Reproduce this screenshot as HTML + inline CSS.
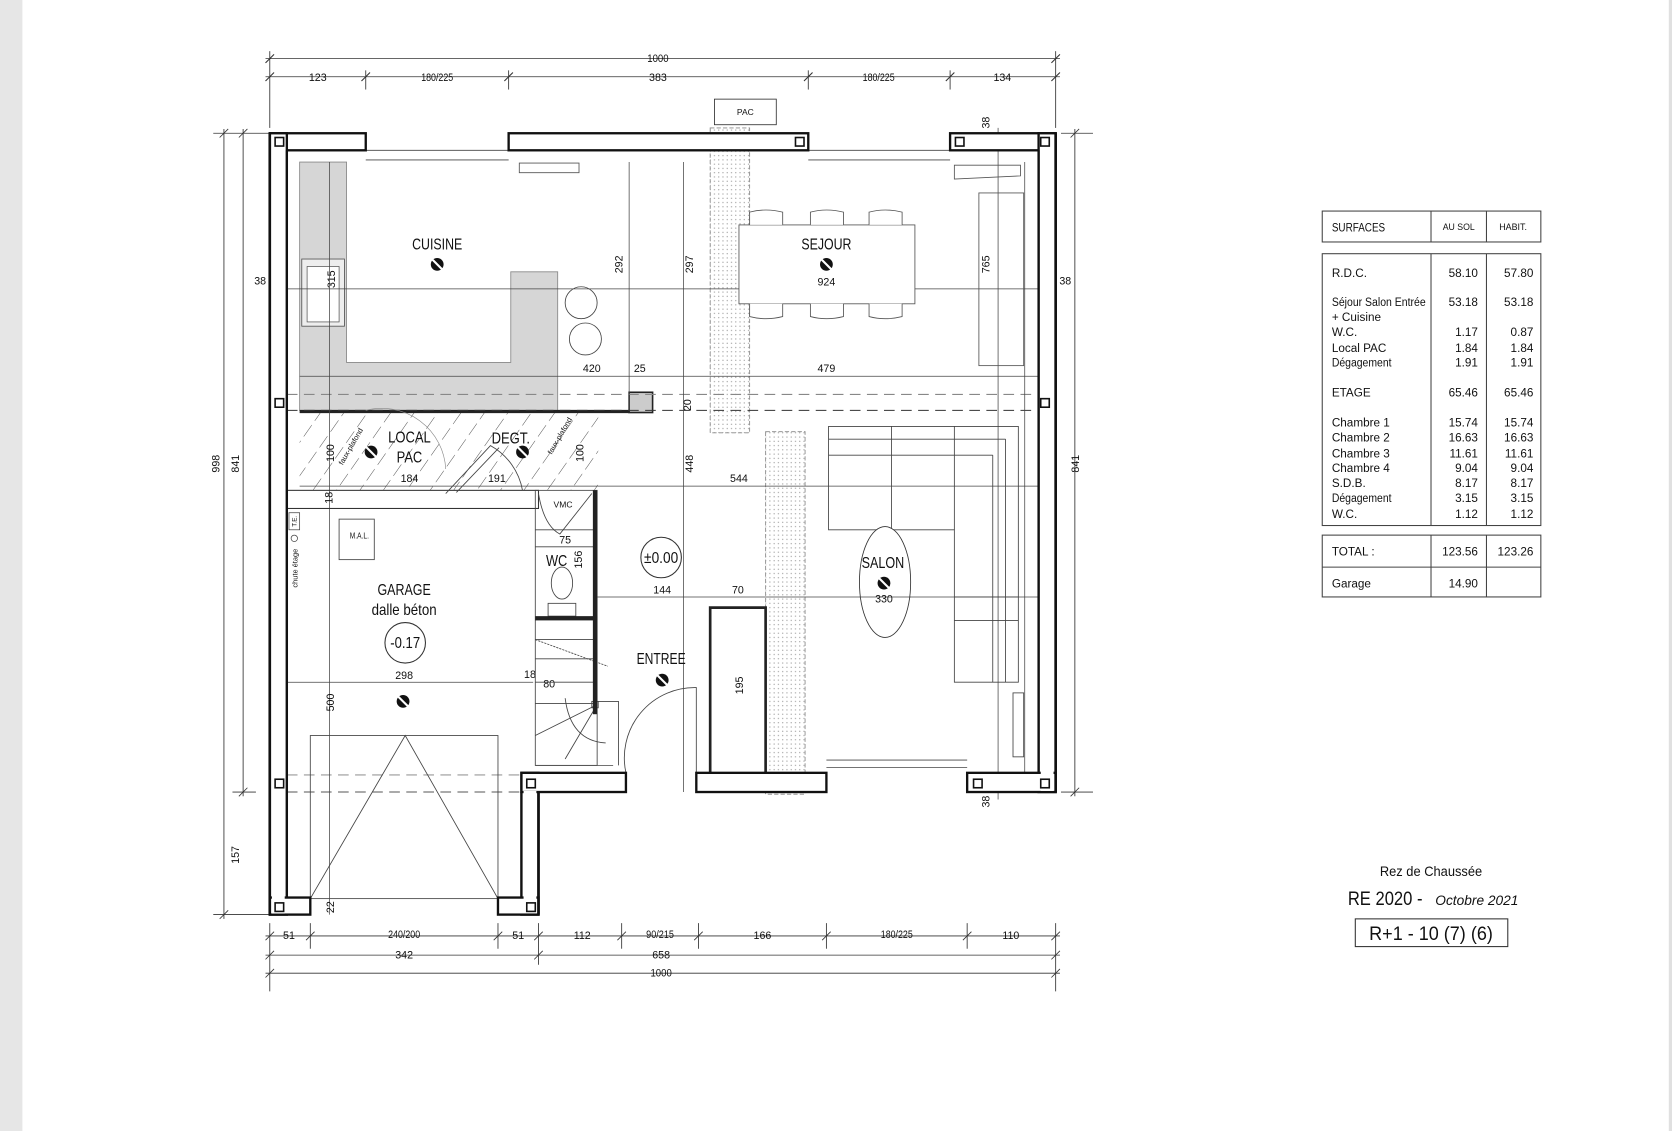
<!DOCTYPE html>
<html><head><meta charset="utf-8"><style>
html,body{margin:0;padding:0;background:#fff;}
svg{display:block;}
text{font-family:"Liberation Sans Narrow","Liberation Sans",sans-serif;fill:#111;}
.d{font-size:10px;}
.l{font-size:15px;}
</style></head><body>
<svg width="1672" height="1131" viewBox="0 0 1568 1061" preserveAspectRatio="none" xmlns="http://www.w3.org/2000/svg">
<defs>
<pattern id="h" width="18" height="18" patternUnits="userSpaceOnUse" patternTransform="rotate(35)">
<line x1="0" y1="0" x2="0" y2="18" stroke="#333" stroke-width="0.8" stroke-dasharray="10,5"/></pattern>
<pattern id="dt" width="4" height="4" patternUnits="userSpaceOnUse"><circle cx="2" cy="2" r="0.6" fill="#999"/></pattern>
</defs>
<rect x="0" y="0" width="1568" height="1061" fill="#fff"/>
<rect x="0" y="0" width="21" height="1061" fill="#e6e6e6"/>
<rect x="1565" y="0" width="3" height="1061" fill="#e0e0e0"/>

<!-- TOP DIMENSIONS -->
<g stroke="#333" stroke-width="0.8" fill="none">
<line x1="249" y1="55" x2="994" y2="55"/>
<line x1="249" y1="72" x2="994" y2="72"/>
<line x1="253" y1="48" x2="253" y2="120"/><line x1="990" y1="48" x2="990" y2="120"/>
<line x1="343" y1="66" x2="343" y2="84"/><line x1="477" y1="66" x2="477" y2="84"/>
<line x1="758" y1="66" x2="758" y2="84"/><line x1="891" y1="66" x2="891" y2="84"/>
<g stroke-width="1">
<line x1="249" y1="59" x2="257" y2="51"/><line x1="986" y1="59" x2="994" y2="51"/>
<line x1="249" y1="76" x2="257" y2="68"/><line x1="339" y1="76" x2="347" y2="68"/><line x1="473" y1="76" x2="481" y2="68"/><line x1="754" y1="76" x2="762" y2="68"/><line x1="887" y1="76" x2="895" y2="68"/><line x1="986" y1="76" x2="994" y2="68"/>
</g>
<line x1="210" y1="121" x2="210" y2="862"/>
<line x1="228" y1="121" x2="228" y2="747"/>
<line x1="200" y1="125" x2="253" y2="125"/>
<line x1="200" y1="858" x2="253" y2="858"/>
<line x1="218" y1="743" x2="240" y2="743"/>
<line x1="206" y1="129" x2="214" y2="121"/><line x1="224" y1="129" x2="232" y2="121"/>
<line x1="206" y1="862" x2="214" y2="854"/><line x1="224" y1="747" x2="232" y2="739"/>
<line x1="1008" y1="121" x2="1008" y2="747"/>
<line x1="995" y1="125" x2="1025" y2="125"/><line x1="995" y1="743" x2="1025" y2="743"/>
<line x1="1004" y1="129" x2="1012" y2="121"/><line x1="1004" y1="747" x2="1012" y2="739"/>
<line x1="249" y1="878" x2="994" y2="878"/>
<line x1="249" y1="896" x2="994" y2="896"/>
<line x1="249" y1="913" x2="994" y2="913"/>
<line x1="253" y1="866" x2="253" y2="930"/><line x1="990" y1="866" x2="990" y2="930"/>
<line x1="291" y1="866" x2="291" y2="890"/><line x1="467" y1="866" x2="467" y2="890"/>
<line x1="505" y1="866" x2="505" y2="905"/><line x1="583" y1="866" x2="583" y2="890"/>
<line x1="655" y1="866" x2="655" y2="890"/><line x1="775" y1="866" x2="775" y2="890"/>
<line x1="907" y1="866" x2="907" y2="890"/>
<line x1="249" y1="882" x2="257" y2="874"/><line x1="287" y1="882" x2="295" y2="874"/><line x1="463" y1="882" x2="471" y2="874"/><line x1="501" y1="882" x2="509" y2="874"/><line x1="579" y1="882" x2="587" y2="874"/><line x1="651" y1="882" x2="659" y2="874"/><line x1="771" y1="882" x2="779" y2="874"/><line x1="903" y1="882" x2="911" y2="874"/><line x1="986" y1="882" x2="994" y2="874"/>
<line x1="249" y1="900" x2="257" y2="892"/><line x1="501" y1="900" x2="509" y2="892"/><line x1="986" y1="900" x2="994" y2="892"/>
<line x1="249" y1="917" x2="257" y2="909"/><line x1="986" y1="917" x2="994" y2="909"/>
</g>
<g class="d" text-anchor="middle">
<text x="617" y="58" textLength="20" lengthAdjust="spacingAndGlyphs">1000</text>
<text x="298" y="76">123</text><text x="410" y="76" textLength="30" lengthAdjust="spacingAndGlyphs">180/225</text><text x="617" y="76">383</text><text x="824" y="76" textLength="30" lengthAdjust="spacingAndGlyphs">180/225</text><text x="940" y="76">134</text>
<text x="271" y="881">51</text><text x="379" y="880" textLength="30" lengthAdjust="spacingAndGlyphs">240/200</text><text x="486" y="881">51</text><text x="546" y="881">112</text><text x="619" y="880" textLength="26" lengthAdjust="spacingAndGlyphs">90/215</text><text x="715" y="881">166</text><text x="841" y="880" textLength="30" lengthAdjust="spacingAndGlyphs">180/225</text><text x="948" y="881">110</text>
<text x="379" y="899">342</text><text x="620" y="899">658</text><text x="620" y="916" textLength="20" lengthAdjust="spacingAndGlyphs">1000</text>
<text x="244" y="267">38</text><text x="999" y="267">38</text>
<text transform="translate(206,435) rotate(-90)">998</text>
<text transform="translate(224,435) rotate(-90)">841</text>
<text transform="translate(224,802) rotate(-90)">157</text>
<text transform="translate(1012,435) rotate(-90)">841</text>
<text transform="translate(928,115) rotate(-90)">38</text>
<text transform="translate(928,752) rotate(-90)">38</text>
</g>

<rect x="670" y="93" width="58" height="24" fill="#fff" stroke="#333" stroke-width="0.8"/>
<text x="699" y="108" font-size="8" text-anchor="middle">PAC</text>

<rect x="666" y="120" width="37" height="286" fill="url(#dt)" stroke="#888" stroke-width="0.8" stroke-dasharray="4,2"/>
<rect x="718" y="405" width="37" height="340" fill="url(#dt)" stroke="#888" stroke-width="0.8" stroke-dasharray="4,2"/>

<polygon points="281,152 325,152 325,340 479,340 479,255 523,255 523,385 281,385" fill="#d6d6d6" stroke="#888" stroke-width="0.8"/>
<rect x="283" y="243" width="40" height="63" fill="#eee" stroke="#555" stroke-width="0.8"/>
<rect x="288" y="250" width="30" height="52" fill="#fff" stroke="#555" stroke-width="0.7"/>
<text transform="translate(314,262) rotate(-90)" class="d" text-anchor="middle">315</text>
<circle cx="545" cy="284" r="15" fill="none" stroke="#444" stroke-width="0.8"/>
<circle cx="549" cy="318" r="15" fill="none" stroke="#444" stroke-width="0.8"/>

<rect x="281" y="387" width="280" height="73" fill="url(#h)"/>
<line x1="281" y1="386" x2="590" y2="386" stroke="#222" stroke-width="3"/>
<rect x="590" y="368" width="22" height="19" fill="#ccc" stroke="#222" stroke-width="1.5"/>

<line x1="269" y1="370" x2="974" y2="370" stroke="#888" stroke-width="1" stroke-dasharray="10,6"/>
<line x1="269" y1="385" x2="974" y2="385" stroke="#333" stroke-width="1" stroke-dasharray="10,6"/>
<line x1="269" y1="727" x2="500" y2="727" stroke="#999" stroke-width="1" stroke-dasharray="10,6"/>
<line x1="269" y1="743" x2="500" y2="743" stroke="#555" stroke-width="1" stroke-dasharray="10,6"/>

<g stroke="#444" stroke-width="0.7" fill="none">
<line x1="253" y1="271" x2="990" y2="271"/>
<line x1="281" y1="353" x2="974" y2="353"/>
<line x1="281" y1="456" x2="974" y2="456"/>
<line x1="269" y1="640" x2="500" y2="640"/>
<line x1="560" y1="560" x2="974" y2="560"/>
<line x1="590" y1="152" x2="590" y2="385"/>
<line x1="641" y1="152" x2="641" y2="743"/>
<line x1="936" y1="120" x2="936" y2="750"/>
<line x1="961" y1="152" x2="961" y2="725"/>
<line x1="309" y1="152" x2="309" y2="858"/>
<line x1="666" y1="570" x2="666" y2="725"/>
<line x1="718" y1="570" x2="718" y2="725"/>
</g>
<g class="d" text-anchor="middle">
<text transform="translate(584,248) rotate(-90)">292</text>
<text transform="translate(650,248) rotate(-90)">297</text>
<text transform="translate(928,248) rotate(-90)">765</text>
<text x="555" y="349">420</text><text x="600" y="349">25</text><text x="775" y="349">479</text>
<text transform="translate(648,380) rotate(-90)">20</text>
<text transform="translate(650,435) rotate(-90)">448</text>
<text x="693" y="452">544</text>
<text x="384" y="452">184</text><text x="466" y="452">191</text>
<text transform="translate(313,425) rotate(-90)">100</text>
<text transform="translate(547,425) rotate(-90)">100</text>
<text transform="translate(312,467) rotate(-90)">18</text>
<text x="621" y="557">144</text><text x="692" y="557">70</text>
<text transform="translate(697,643) rotate(-90)">195</text>
<text x="379" y="637">298</text>
<text transform="translate(313,659) rotate(-90)">500</text>
<text transform="translate(313,851) rotate(-90)">22</text>
<text x="530" y="510">75</text>
<text transform="translate(546,525) rotate(-90)">156</text>
<text x="497" y="636">18</text><text x="515" y="645">80</text>
<text x="775" y="268">924</text>
</g>

<rect x="693" y="211" width="165" height="74" fill="#fff" stroke="#555" stroke-width="0.8"/>
<text x="775" y="268" class="d" text-anchor="middle">924</text>
<g fill="#fff" stroke="#555" stroke-width="0.8">
<path d="M703,211 v-12 q15,-4 31,0 v12"/><path d="M760,211 v-12 q15,-4 31,0 v12"/><path d="M815,211 v-12 q15,-4 31,0 v12"/>
<path d="M703,285 v12 q15,4 31,0 v-12"/><path d="M760,285 v12 q15,4 31,0 v-12"/><path d="M815,285 v12 q15,4 31,0 v-12"/>
</g>
<rect x="918" y="181" width="42" height="162" fill="none" stroke="#555" stroke-width="0.8"/>
<polygon points="895,155 957,155 957,165 895,168" fill="none" stroke="#555" stroke-width="0.8"/>
<polygon points="487,153 543,153 543,162 487,162" fill="none" stroke="#555" stroke-width="0.8"/>

<g fill="none" stroke="#444" stroke-width="0.8">
<path d="M777,400 H955 V640 H895 V497 H777 Z"/>
<line x1="777" y1="412" x2="943" y2="412"/><line x1="943" y1="412" x2="943" y2="640"/>
<line x1="777" y1="427" x2="931" y2="427"/><line x1="931" y1="427" x2="931" y2="640"/>
<line x1="836" y1="400" x2="836" y2="497"/><line x1="895" y1="400" x2="895" y2="497"/>
<line x1="895" y1="560" x2="955" y2="560"/><line x1="895" y1="582" x2="955" y2="582"/>
<rect x="950" y="650" width="10" height="60"/>
</g>
<ellipse cx="830" cy="546" rx="24" ry="52" fill="#fff" stroke="#333" stroke-width="0.8"/>
<line x1="806" y1="560" x2="854" y2="560" stroke="#444" stroke-width="0.7"/>
<text x="829" y="565" class="d" text-anchor="middle">330</text>

<rect x="269" y="460" width="236" height="17" fill="none" stroke="#333" stroke-width="1"/>
<rect x="318" y="487" width="33" height="38" fill="none" stroke="#444" stroke-width="0.8"/>
<text x="328" y="505" font-size="8" textLength="18" lengthAdjust="spacingAndGlyphs">M.A.L.</text>
<rect x="271" y="481" width="10" height="16" fill="none" stroke="#444" stroke-width="0.7"/>
<text transform="translate(278,489) rotate(-90)" font-size="6" text-anchor="middle">T.E.</text>
<circle cx="276" cy="505" r="3" fill="none" stroke="#444" stroke-width="0.7"/>
<text transform="translate(279,533) rotate(-90)" font-size="7" text-anchor="middle">chute étage</text>
<rect x="291" y="690" width="176" height="153" fill="none" stroke="#444" stroke-width="0.8"/>
<polyline points="291,843 380,690 467,843" fill="none" stroke="#444" stroke-width="0.8"/>

<g fill="none" stroke="#444" stroke-width="0.8">
<rect x="502" y="460" width="58" height="258"/>
<line x1="502" y1="497" x2="560" y2="497"/>
<line x1="502" y1="513" x2="560" y2="513"/>
<line x1="502" y1="600" x2="560" y2="600"/>
<line x1="502" y1="618" x2="560" y2="618"/>
<line x1="502" y1="640" x2="560" y2="640"/>
<line x1="502" y1="660" x2="560" y2="660"/>
<line x1="502" y1="718" x2="575" y2="718"/>
<rect x="555" y="658" width="6" height="6"/>
<polyline points="560,658 580,658 580,718"/>
<line x1="502" y1="690" x2="560" y2="661"/>
<line x1="530" y1="712" x2="560" y2="661"/>
<path d="M530,655 q5,40 38,42"/>
<path d="M505,463 q5,30 20,38 l30,-38"/>
<ellipse cx="527" cy="547" rx="10" ry="15"/>
<rect x="514" y="566" width="26" height="12"/>
<line x1="502" y1="600" x2="570" y2="625" stroke-dasharray="2,1"/>
</g>
<rect x="556" y="460" width="4" height="210" fill="#222"/>
<rect x="502" y="578" width="58" height="4" fill="#222"/>
<text x="528" y="476" font-size="8" text-anchor="middle">VMC</text>

<polyline points="666,725 666,570 718,570 718,725" fill="none" stroke="#222" stroke-width="2.5"/>
<path d="M587,725 A66,66 0 0 1 653,645 L653,725" fill="none" stroke="#444" stroke-width="0.8"/>
<path d="M418,463 L460,418 A60,60 0 0 1 490,460" fill="none" stroke="#444" stroke-width="0.8"/>
<line x1="428" y1="462" x2="468" y2="420" stroke="#444" stroke-width="0.8"/>
<path d="M343,385 A60,60 0 0 1 418,440" fill="none" stroke="#888" stroke-width="0.6"/>

<g stroke="#444" stroke-width="0.8" fill="none">
<line x1="343" y1="141" x2="477" y2="141"/><line x1="343" y1="150" x2="477" y2="150"/>
<line x1="758" y1="141" x2="891" y2="141"/><line x1="758" y1="150" x2="891" y2="150"/>
<line x1="775" y1="713" x2="907" y2="713"/><line x1="775" y1="720" x2="907" y2="720"/>
</g>

<g fill="#fff" stroke="#111" stroke-width="2.2">
<rect x="253" y="125" width="90" height="16"/>
<rect x="477" y="125" width="281" height="16"/>
<rect x="891" y="125" width="99" height="16"/>
<rect x="253" y="125" width="16" height="733"/>
<rect x="974" y="125" width="16" height="618"/>
<rect x="489" y="725" width="16" height="133"/>
<rect x="489" y="725" width="98" height="18"/>
<rect x="653" y="725" width="122" height="18"/>
<rect x="907" y="725" width="83" height="18"/>
<rect x="253" y="842" width="38" height="16"/>
<rect x="467" y="842" width="38" height="16"/>
</g>
<rect x="255" y="140" width="12" height="717" fill="#fff"/>
<rect x="976" y="140" width="12" height="602" fill="#fff"/>
<rect x="491" y="742" width="12" height="114" fill="#fff"/>
<line x1="269" y1="141" x2="269" y2="842" stroke="#111" stroke-width="2"/>
<line x1="974" y1="141" x2="974" y2="725" stroke="#111" stroke-width="2"/>
<line x1="253" y1="125" x2="253" y2="858" stroke="#111" stroke-width="2.5"/>
<line x1="990" y1="125" x2="990" y2="743" stroke="#111" stroke-width="2.5"/>
<line x1="505" y1="743" x2="505" y2="858" stroke="#111" stroke-width="2.5"/>
<line x1="489" y1="743" x2="489" y2="842" stroke="#111" stroke-width="2"/>
<g fill="#fff" stroke="#111" stroke-width="1.5">
<rect x="258" y="129" width="8" height="8"/><rect x="746" y="129" width="8" height="8"/><rect x="896" y="129" width="8" height="8"/><rect x="976" y="129" width="8" height="8"/>
<rect x="258" y="374" width="8" height="8"/><rect x="976" y="374" width="8" height="8"/>
<rect x="258" y="731" width="8" height="8"/><rect x="494" y="731" width="8" height="8"/><rect x="976" y="731" width="8" height="8"/><rect x="913" y="731" width="8" height="8"/>
<rect x="258" y="847" width="8" height="8"/><rect x="494" y="847" width="8" height="8"/>
</g>

<g class="l" text-anchor="middle">
<text x="410" y="234" textLength="47" lengthAdjust="spacingAndGlyphs">CUISINE</text>
<text x="775" y="234" textLength="47" lengthAdjust="spacingAndGlyphs">SEJOUR</text>
<text x="384" y="415" textLength="40" lengthAdjust="spacingAndGlyphs">LOCAL</text><text x="384" y="434" textLength="24" lengthAdjust="spacingAndGlyphs">PAC</text>
<text x="479" y="416" textLength="36" lengthAdjust="spacingAndGlyphs">DEGT.</text>
<text x="828" y="533" textLength="40" lengthAdjust="spacingAndGlyphs">SALON</text>
<text x="379" y="558" textLength="50" lengthAdjust="spacingAndGlyphs">GARAGE</text>
<text x="379" y="577" textLength="61" lengthAdjust="spacingAndGlyphs">dalle béton</text>
<text x="620" y="623" textLength="46" lengthAdjust="spacingAndGlyphs">ENTREE</text>
<text x="522" y="531" textLength="20" lengthAdjust="spacingAndGlyphs">WC</text>
</g>
<g fill="#111">
<circle cx="410" cy="248" r="6"/><circle cx="775" cy="248" r="6"/><circle cx="348" cy="424" r="6"/><circle cx="490" cy="424" r="6"/><circle cx="829" cy="547" r="6"/><circle cx="378" cy="658" r="6"/><circle cx="621" cy="638" r="6"/>
</g>
<g stroke="#fff" stroke-width="2">
<line x1="405" y1="243" x2="415" y2="253"/><line x1="770" y1="243" x2="780" y2="253"/><line x1="824" y1="542" x2="834" y2="552"/><line x1="373" y1="653" x2="383" y2="663"/><line x1="616" y1="633" x2="626" y2="643"/><line x1="485" y1="419" x2="495" y2="429"/><line x1="343" y1="419" x2="353" y2="429"/>
</g>
<circle cx="620" cy="523" r="19" fill="#fff" stroke="#333" stroke-width="1"/>
<text x="620" y="528" font-size="15" text-anchor="middle" textLength="32" lengthAdjust="spacingAndGlyphs">±0.00</text>
<circle cx="380" cy="603" r="19" fill="#fff" stroke="#333" stroke-width="1"/>
<text x="380" y="608" font-size="15" text-anchor="middle" textLength="28" lengthAdjust="spacingAndGlyphs">-0.17</text>
<text transform="translate(331,420) rotate(-60)" font-size="7" text-anchor="middle">faux-plafond</text>
<text transform="translate(527,410) rotate(-60)" font-size="7" text-anchor="middle">faux-plafond</text>

<g fill="none" stroke="#444" stroke-width="1">
<rect x="1240" y="198" width="205" height="29"/>
<line x1="1342" y1="198" x2="1342" y2="227"/><line x1="1394" y1="198" x2="1394" y2="227"/>
<rect x="1240" y="238" width="205" height="255"/>
<line x1="1342" y1="238" x2="1342" y2="493"/><line x1="1394" y1="238" x2="1394" y2="493"/>
<rect x="1240" y="502" width="205" height="58"/>
<line x1="1240" y1="532" x2="1445" y2="532"/>
<line x1="1342" y1="502" x2="1342" y2="560"/><line x1="1394" y1="502" x2="1394" y2="560"/>
</g>
<g font-size="11">
<text x="1249" y="217" textLength="50" lengthAdjust="spacingAndGlyphs">SURFACES</text>
<text x="1353" y="216" font-size="9" textLength="30" lengthAdjust="spacingAndGlyphs">AU SOL</text><text x="1406" y="216" font-size="9" textLength="26" lengthAdjust="spacingAndGlyphs">HABIT.</text>
<text x="1249" y="260">R.D.C.</text>
<text x="1249" y="287" textLength="88" lengthAdjust="spacingAndGlyphs">Séjour Salon Entrée</text><text x="1249" y="301">+ Cuisine</text>
<text x="1249" y="315">W.C.</text><text x="1249" y="330">Local PAC</text><text x="1249" y="344" textLength="56" lengthAdjust="spacingAndGlyphs">Dégagement</text>
<text x="1249" y="372">ETAGE</text>
<text x="1249" y="400">Chambre 1</text><text x="1249" y="414">Chambre 2</text><text x="1249" y="429">Chambre 3</text><text x="1249" y="443">Chambre 4</text><text x="1249" y="457">S.D.B.</text><text x="1249" y="471" textLength="56" lengthAdjust="spacingAndGlyphs">Dégagement</text><text x="1249" y="486">W.C.</text>
<text x="1249" y="521">TOTAL :</text><text x="1249" y="551">Garage</text>
</g>
<g font-size="11" text-anchor="end">
<text x="1386" y="260">58.10</text><text x="1438" y="260">57.80</text>
<text x="1386" y="287">53.18</text><text x="1438" y="287">53.18</text>
<text x="1386" y="315">1.17</text><text x="1438" y="315">0.87</text>
<text x="1386" y="330">1.84</text><text x="1438" y="330">1.84</text>
<text x="1386" y="344">1.91</text><text x="1438" y="344">1.91</text>
<text x="1386" y="372">65.46</text><text x="1438" y="372">65.46</text>
<text x="1386" y="400">15.74</text><text x="1438" y="400">15.74</text>
<text x="1386" y="414">16.63</text><text x="1438" y="414">16.63</text>
<text x="1386" y="429">11.61</text><text x="1438" y="429">11.61</text>
<text x="1386" y="443">9.04</text><text x="1438" y="443">9.04</text>
<text x="1386" y="457">8.17</text><text x="1438" y="457">8.17</text>
<text x="1386" y="471">3.15</text><text x="1438" y="471">3.15</text>
<text x="1386" y="486">1.12</text><text x="1438" y="486">1.12</text>
<text x="1386" y="521">123.56</text><text x="1438" y="521">123.26</text>
<text x="1386" y="551">14.90</text>
</g>

<text x="1342" y="822" font-size="13" text-anchor="middle" textLength="96" lengthAdjust="spacingAndGlyphs">Rez de Chaussée</text>
<text x="1264" y="849" font-size="18" textLength="70" lengthAdjust="spacingAndGlyphs">RE 2020 -</text>
<text x="1346" y="849" font-size="13" font-style="italic" textLength="78" lengthAdjust="spacingAndGlyphs">Octobre 2021</text>
<rect x="1271" y="862" width="143" height="26" fill="none" stroke="#333" stroke-width="1"/>
<text x="1342" y="882" font-size="18" text-anchor="middle" textLength="116" lengthAdjust="spacingAndGlyphs">R+1 - 10 (7) (6)</text>
</svg>
</body></html>
